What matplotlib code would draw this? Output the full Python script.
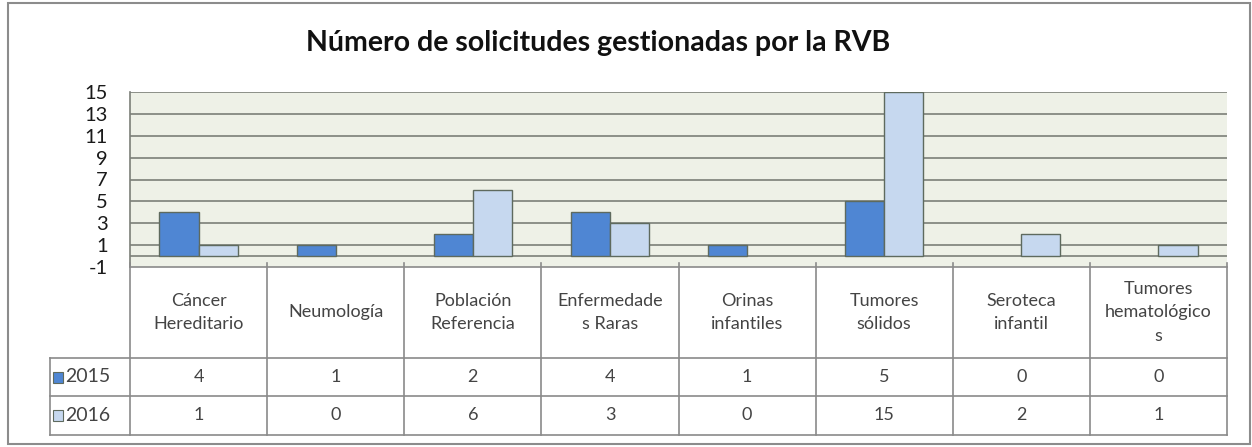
import numpy as np
import matplotlib
matplotlib.use('Agg')
import matplotlib.pyplot as plt
from matplotlib.patches import Rectangle

plt.rcParams['font.family'] = ['Lato', 'DejaVu Sans']

categories = ['Cáncer\nHereditario', 'Neumología', 'Población\nReferencia',
              'Enfermedade\ns Raras', 'Orinas\ninfantiles', 'Tumores\nsólidos',
              'Seroteca\ninfantil', 'Tumores\nhematológico\ns']
series = ['2015', '2016']
values_2015 = [4, 1, 2, 4, 1, 5, 0, 0]
values_2016 = [1, 0, 6, 3, 0, 15, 2, 1]
yticks = [-1, 1, 3, 5, 7, 9, 11, 13, 15]

COLORS = {'2015': '#4f86d3', '2016': '#c6d8ef'}
EDGE = '#5e6a5e'
GRID = '#7b7f78'
TXT = '#444444'

W, H = 1252, 447
fig = plt.figure(figsize=(W / 100, H / 100), dpi=100)

# pixel layout
px_left, px_right = 130, 1227
px_top, px_bottom = 92, 267
row_bounds = [267, 358, 396, 435]
label_left = 50

ax = fig.add_axes([px_left / W, 1 - px_bottom / H,
                   (px_right - px_left) / W, (px_bottom - px_top) / H])
ax.set_facecolor('#eef1e7')
n = len(categories)
x = np.arange(n)
bw = 0.285
for offs, vals, name in [(-bw / 2, values_2015, '2015'), (bw / 2, values_2016, '2016')]:
    lw = [1 if v != 0 else 0 for v in vals]
    ax.bar(x + offs, vals, bw, color=COLORS[name], edgecolor=EDGE, linewidth=lw, zorder=3)
ax.set_xlim(-0.5, n - 0.5)
ax.set_ylim(-1, 15)
ax.set_yticks(yticks)
ax.set_yticklabels([str(t) for t in yticks], fontsize=14.5, color='#1a1a1a')
ax.tick_params(axis='y', length=0, pad=16)
ax.set_xticks([])
for t in yticks[1:]:
    ax.axhline(t, color=GRID, linewidth=1.2, zorder=1)
ax.axhline(0, color=GRID, linewidth=1.2, zorder=2)
for s in ['top', 'right', 'bottom']:
    ax.spines[s].set_visible(False)
ax.spines['left'].set_color(GRID)
ax.spines['left'].set_linewidth(1.2)

# overlay in pixel coordinates for table, frame and title
ov = fig.add_axes([0, 0, 1, 1], facecolor='none')
ov.set_xlim(0, W)
ov.set_ylim(H, 0)
ov.axis('off')

ov.add_patch(Rectangle((8, 3), W - 10, H - 6, fill=False, edgecolor='#8c8c8c', linewidth=1.5))
ov.text(598, 43, 'Número de solicitudes gestionadas por la RVB', ha='center', va='center',
        fontsize=20.5, fontweight='bold', color='#111111')

colw = (px_right - px_left) / n
tcol = '#8a8a8a'
# horizontal lines
ov.plot([px_left, px_right], [row_bounds[0], row_bounds[0]], color=tcol, lw=1.2)
for yb in row_bounds[1:]:
    ov.plot([label_left, px_right], [yb, yb], color=tcol, lw=1.2)
# vertical lines
for i in range(n + 1):
    xv = px_left + i * colw
    ov.plot([xv, xv], [row_bounds[0] - 4, row_bounds[-1]], color=tcol, lw=1.2)
ov.plot([label_left, label_left], [row_bounds[1], row_bounds[-1]], color=tcol, lw=1.2)

hy = (row_bounds[0] + row_bounds[1]) / 2
for i, c in enumerate(categories):
    cx = px_left + (i + 0.5) * colw
    ov.text(cx, hy, c, ha='center', va='center', fontsize=13, color=TXT, linespacing=1.6)

for r, (name, vals) in enumerate(zip(series, [values_2015, values_2016])):
    cy = (row_bounds[r + 1] + row_bounds[r + 2]) / 2
    ov.add_patch(Rectangle((53, cy - 5.5), 10, 11, facecolor=COLORS[name], edgecolor=EDGE, lw=0.8))
    ov.text(65, cy, name, ha='left', va='center', fontsize=14, color=TXT)
    for i, v in enumerate(vals):
        cx = px_left + (i + 0.5) * colw
        ov.text(cx, cy, str(v), ha='center', va='center', fontsize=13, color=TXT)

fig.savefig('out.png', dpi=100)
